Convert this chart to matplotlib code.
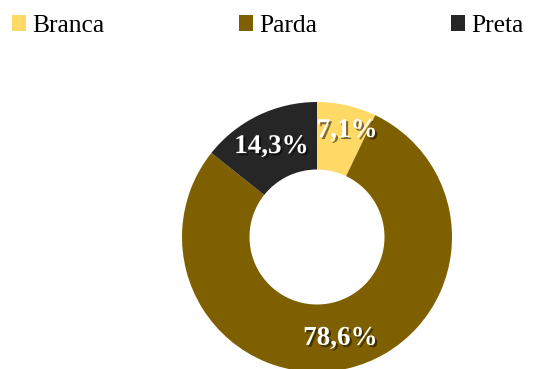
import numpy as np
import matplotlib.pyplot as plt
import matplotlib.patheffects as pe
from matplotlib.patches import Patch

labels = ['Branca', 'Parda', 'Preta']
values = [7.1, 78.6, 14.3]
colors = ['#FFD966', '#7F6000', '#262626']

plt.rcParams['font.family'] = 'Liberation Serif'

fig = plt.figure(figsize=(5.48, 3.69), dpi=100)
ax = fig.add_axes([182 / 548, -3 / 369, 270 / 548, 270 / 369])

wedges, texts = ax.pie(values, colors=colors, startangle=90, counterclock=False,
                       wedgeprops=dict(width=0.5, edgecolor='none'), radius=1.0)
ax.set_xlim(-1, 1)
ax.set_ylim(-1, 1)
ax.set_aspect('equal')

# percent labels inside the ring (Excel nudges them a little)
label_r = [0.82, 0.77, 0.75]
label_shift = [-3, 0, 1]  # degrees
total = sum(values)
start = 90.0
for v, r, d in zip(values, label_r, label_shift):
    ang = np.deg2rad(start - v / total * 360 / 2 + d)
    start -= v / total * 360
    ax.text(r * np.cos(ang), r * np.sin(ang), f'{v:.1f}%'.replace('.', ','),
            ha='center', va='center', color='white', fontsize=19.5, fontweight='bold',
            path_effects=[pe.withSimplePatchShadow(offset=(1.5, -1.5), shadow_rgbFace='black', alpha=0.5)])

handles = [Patch(facecolor=c, edgecolor='none') for c in colors]
fig.legend(handles, labels, loc='upper left', bbox_to_anchor=(12 / 548, 1 - 15 / 369),
           ncol=3, frameon=False, fontsize=18.4, borderpad=0, borderaxespad=0,
           handlelength=0.55, handleheight=0.55, handletextpad=0.25, columnspacing=5.25)

fig.savefig('out.png', dpi=100)
